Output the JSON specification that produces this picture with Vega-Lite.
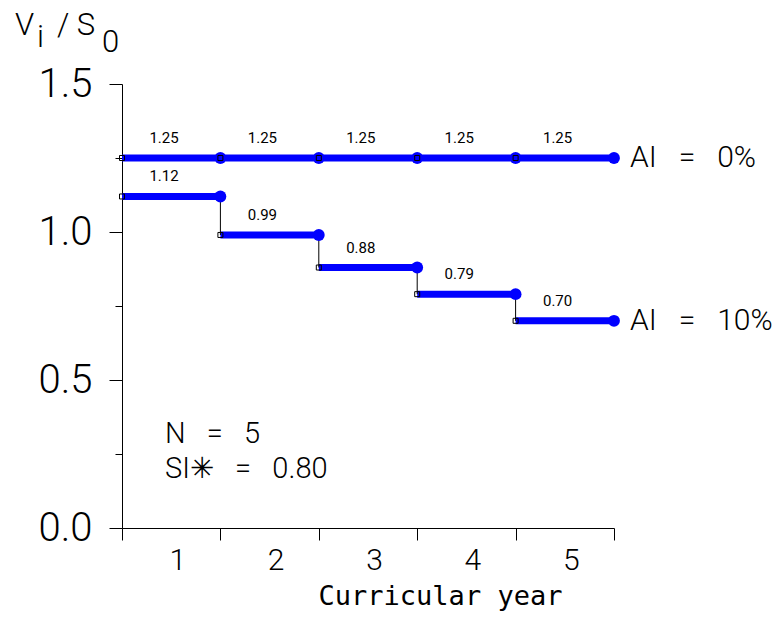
{
  "$schema": "https://vega.github.io/schema/vega-lite/v6.json",
  "width": 492,
  "height": 444,
  "autosize": {"type": "none"},
  "padding": {"left": 122, "top": 84, "right": 158, "bottom": 91},
  "background": "white",
  "config": {"view": {"stroke": null}, "font": "Roboto"},
  "datasets": {
    "seg": [
      {"s": "AI\u00a0\u00a0\u00a0=\u00a0\u00a0\u00a00%", "start": 0, "end": 1, "v": 1.25, "prev": null},
      {"s": "AI\u00a0\u00a0\u00a0=\u00a0\u00a0\u00a00%", "start": 1, "end": 2, "v": 1.25, "prev": null},
      {"s": "AI\u00a0\u00a0\u00a0=\u00a0\u00a0\u00a00%", "start": 2, "end": 3, "v": 1.25, "prev": null},
      {"s": "AI\u00a0\u00a0\u00a0=\u00a0\u00a0\u00a00%", "start": 3, "end": 4, "v": 1.25, "prev": null},
      {"s": "AI\u00a0\u00a0\u00a0=\u00a0\u00a0\u00a00%", "start": 4, "end": 5, "v": 1.25, "prev": null},
      {"s": "AI\u00a0\u00a0\u00a0=\u00a0\u00a0\u00a010%", "start": 0, "end": 1, "v": 1.12, "prev": null},
      {"s": "AI\u00a0\u00a0\u00a0=\u00a0\u00a0\u00a010%", "start": 1, "end": 2, "v": 0.99, "prev": 1.12},
      {"s": "AI\u00a0\u00a0\u00a0=\u00a0\u00a0\u00a010%", "start": 2, "end": 3, "v": 0.88, "prev": 0.99},
      {"s": "AI\u00a0\u00a0\u00a0=\u00a0\u00a0\u00a010%", "start": 3, "end": 4, "v": 0.79, "prev": 0.88},
      {"s": "AI\u00a0\u00a0\u00a0=\u00a0\u00a0\u00a010%", "start": 4, "end": 5, "v": 0.70, "prev": 0.79}
    ],
    "ann": [
      {"x": 0.437, "y": 0.287, "t": "N\u00a0\u00a0\u00a0=\u00a0\u00a0\u00a05"},
      {"x": 0.437, "y": 0.169, "t": "SI\u2733\u00a0\u00a0\u00a0=\u00a0\u00a0\u00a00.80"}
    ],
    "ttl": [
      {"x": -1.087, "y": 1.666, "t": "V"},
      {"x": -0.864, "y": 1.625, "t": "i"},
      {"x": -0.661, "y": 1.666, "t": "/\u00a0S"},
      {"x": -0.203, "y": 1.608, "t": "0"}
    ]
  },
  "layer": [
    {
      "data": {"name": "seg"},
      "mark": {"type": "rule", "color": "#0000ff", "strokeWidth": 7, "strokeCap": "butt"},
      "encoding": {
        "x": {
          "field": "start", "type": "quantitative",
          "scale": {"domain": [0, 5], "nice": false, "zero": false},
          "axis": {
            "values": [0, 0.5, 1, 1.5, 2, 2.5, 3, 3.5, 4, 4.5, 5],
            "labelExpr": "datum.value % 1 == 0.5 ? format(datum.value + 0.5, 'd') : ''",
            "tickOpacity": {"condition": {"test": "datum.value % 1 != 0", "value": 0}, "value": 1},
            "tickSize": 12,
            "tickColor": "black",
            "domainColor": "black",
            "grid": false,
            "labelFontSize": 30,
            "labelFontWeight": 300,
            "labelColor": "black",
            "labelPadding": 5,
            "labelOffset": 6,
            "labelOverlap": false,
            "labelFlush": false,
            "labelBound": false,
            "title": "Curricular year",
            "titleFont": "DejaVu Sans Mono",
            "titleFontSize": 27,
            "titleFontWeight": "normal",
            "titleColor": "black",
            "titleX": 318,
            "titleY": 76,
            "titleBaseline": "alphabetic",
            "titleAlign": "center"
          }
        },
        "x2": {"field": "end"},
        "y": {
          "field": "v", "type": "quantitative",
          "scale": {"domain": [0, 1.5], "nice": false, "zero": false},
          "axis": {
            "values": [0, 0.25, 0.5, 0.75, 1, 1.25, 1.5],
            "labelExpr": "datum.value % 0.5 == 0 ? format(datum.value, '.1f') : ''",
            "tickSize": {"condition": {"test": "datum.value % 0.5 != 0", "value": 7}, "value": 13},
            "tickColor": "black",
            "domainColor": "black",
            "grid": false,
            "labelFontSize": 40,
            "labelFontWeight": 300,
            "labelColor": "black",
            "labelPadding": 17,
            "labelOverlap": false,
            "labelFlush": false,
            "labelBound": false,
            "title": null
          }
        }
      }
    },
    {
      "data": {"name": "seg"},
      "transform": [{"filter": "datum.prev != null"}],
      "mark": {"type": "rule", "color": "black", "strokeWidth": 1},
      "encoding": {
        "x": {"field": "start", "type": "quantitative"},
        "y": {"field": "prev", "type": "quantitative"},
        "y2": {"field": "v"}
      }
    },
    {
      "data": {"name": "seg"},
      "mark": {"type": "point", "shape": "circle", "filled": true, "color": "#0000ff", "opacity": 1, "size": 140},
      "encoding": {
        "x": {"field": "end", "type": "quantitative"},
        "y": {"field": "v", "type": "quantitative"}
      }
    },
    {
      "data": {"name": "seg"},
      "mark": {"type": "point", "shape": "square", "filled": false, "stroke": "black", "strokeWidth": 1, "opacity": 1, "size": 25},
      "encoding": {
        "x": {"field": "start", "type": "quantitative"},
        "y": {"field": "v", "type": "quantitative"}
      }
    },
    {
      "data": {"name": "seg"},
      "mark": {"type": "text", "dx": 42, "dy": -20, "align": "center", "baseline": "middle", "fontSize": 15, "color": "black"},
      "encoding": {
        "x": {"field": "start", "type": "quantitative"},
        "y": {"field": "v", "type": "quantitative"},
        "text": {"field": "v", "type": "quantitative", "format": ".2f"}
      }
    },
    {
      "data": {"name": "seg"},
      "transform": [{"filter": "datum.end == 5"}],
      "mark": {"type": "text", "dx": 16, "align": "left", "baseline": "middle", "fontSize": 30, "fontWeight": 300, "color": "black"},
      "encoding": {
        "x": {"field": "end", "type": "quantitative"},
        "y": {"field": "v", "type": "quantitative"},
        "text": {"field": "s"}
      }
    },
    {
      "data": {"name": "ann"},
      "mark": {"type": "text", "align": "left", "baseline": "alphabetic", "fontSize": 29, "fontWeight": 300, "color": "black"},
      "encoding": {
        "x": {"field": "x", "type": "quantitative"},
        "y": {"field": "y", "type": "quantitative"},
        "text": {"field": "t"}
      }
    },
    {
      "data": {"name": "ttl"},
      "mark": {"type": "text", "align": "left", "baseline": "alphabetic", "fontSize": 31, "fontWeight": 300, "color": "black", "clip": false},
      "encoding": {
        "x": {"field": "x", "type": "quantitative"},
        "y": {"field": "y", "type": "quantitative"},
        "text": {"field": "t"}
      }
    }
  ]
}
